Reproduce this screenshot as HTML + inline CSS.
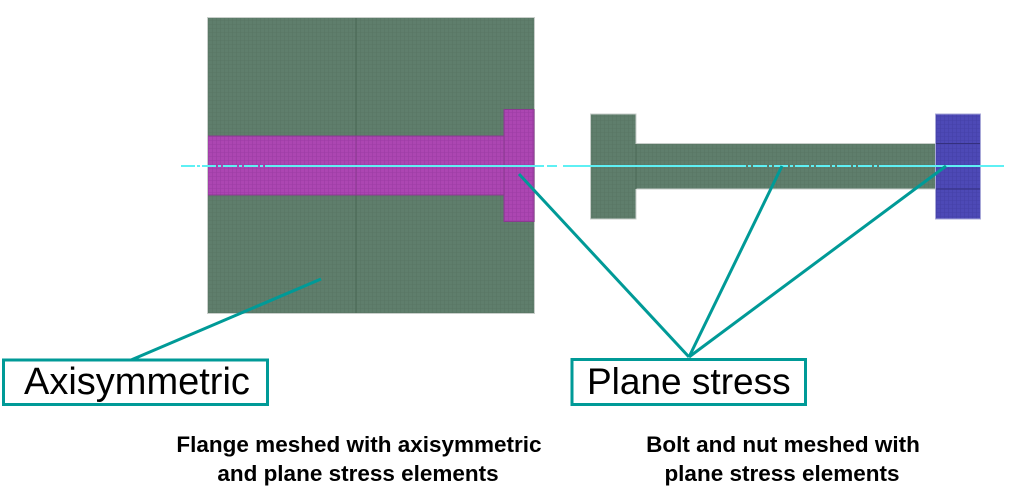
<!DOCTYPE html>
<html><head><meta charset="utf-8"><style>
html,body{margin:0;padding:0;background:#fff;}
svg{display:block;}
</style></head><body>
<svg width="1012" height="503" viewBox="0 0 1012 503" xmlns="http://www.w3.org/2000/svg">
<defs>
<pattern id="mg" width="4" height="4" patternUnits="userSpaceOnUse">
<rect width="4" height="4" fill="#5f7e6c"/>
<path d="M0 0.5H4M0.5 0V4" stroke="#587563" stroke-width="0.6"/>
</pattern>
<pattern id="mm" width="4" height="4" patternUnits="userSpaceOnUse">
<rect width="4" height="4" fill="#ac46b2"/>
<path d="M0 0.5H4M0.5 0V4" stroke="#9c3ca4" stroke-width="0.6"/>
</pattern>
<pattern id="mb" width="4" height="4" patternUnits="userSpaceOnUse">
<rect width="4" height="4" fill="#4d49b6"/>
<path d="M0 0.5H4M0.5 0V4" stroke="#4440a8" stroke-width="0.6"/>
</pattern>
</defs>
<!-- Flange -->
<rect x="207.5" y="17.5" width="327" height="296" fill="url(#mg)" stroke="#c9cfcb" stroke-width="1"/>
<line x1="356" y1="18" x2="356" y2="313" stroke="#4d6b58" stroke-width="1.2"/>
<rect x="208" y="136" width="297" height="59" fill="url(#mm)"/>
<rect x="504" y="109.5" width="30" height="112" fill="url(#mm)" stroke="#8a3a90" stroke-width="1"/>
<line x1="208" y1="136" x2="504" y2="136" stroke="#8a3a90" stroke-width="1"/>
<line x1="208" y1="195" x2="504" y2="195" stroke="#8a3a90" stroke-width="1"/>
<line x1="356" y1="136" x2="356" y2="195" stroke="#8a3a90" stroke-width="1"/>
<!-- Bolt -->
<rect x="590.5" y="114" width="45.5" height="105" fill="url(#mg)" stroke="#c9cfcb" stroke-width="1"/>
<rect x="636" y="143.5" width="300" height="45.5" fill="url(#mg)" stroke="#c9cfcb" stroke-width="1"/>
<line x1="636" y1="144" x2="636" y2="189" stroke="#4d6b58" stroke-width="1"/>
<rect x="935.5" y="114" width="45" height="105" fill="url(#mb)" stroke="#a8a8d8" stroke-width="1"/>
<line x1="936" y1="143.5" x2="980" y2="143.5" stroke="#34307e" stroke-width="1"/>
<line x1="936" y1="189" x2="980" y2="189" stroke="#34307e" stroke-width="1"/>
<!-- Centerline -->
<g stroke="#5ef0f4" stroke-width="2">
<line x1="181" y1="166" x2="268" y2="166" stroke-dasharray="14 2 3 2"/>
<line x1="268" y1="166" x2="534" y2="166"/>
<line x1="534" y1="166" x2="558" y2="166" stroke-dasharray="10 3"/>
<line x1="563" y1="166" x2="732" y2="166"/>
<line x1="732" y1="166" x2="888" y2="166" stroke-dasharray="14 2 3 2"/>
<line x1="888" y1="166" x2="1004" y2="166"/>
</g>
<!-- Leader lines -->
<g stroke="#009a97" stroke-width="3" stroke-linecap="butt">
<line x1="131" y1="360" x2="321" y2="279"/>
<line x1="519" y1="174" x2="689" y2="357"/>
<line x1="782" y1="166" x2="689" y2="357"/>
<line x1="946" y1="166" x2="689" y2="357"/>
</g>
<!-- Label boxes -->
<rect x="3.5" y="360" width="264" height="44.5" fill="#fff" stroke="#009a97" stroke-width="3"/>
<text x="24" y="394" font-family="Liberation Sans, Arial, sans-serif" font-size="38" fill="#000">Axisymmetric</text>
<rect x="572" y="359.5" width="233.5" height="45" fill="#fff" stroke="#009a97" stroke-width="3"/>
<text x="587" y="394" font-family="Liberation Sans, Arial, sans-serif" font-size="37" fill="#000">Plane stress</text>
<!-- Captions -->
<g font-family="Liberation Sans, Arial, sans-serif" font-size="22.5" font-weight="bold" fill="#000" text-anchor="middle">
<text x="359" y="452">Flange meshed with axisymmetric</text>
<text x="358" y="481">and plane stress elements</text>
<text x="783" y="452">Bolt and nut meshed with</text>
<text x="782" y="481">plane stress elements</text>
</g>
</svg>
</body></html>
